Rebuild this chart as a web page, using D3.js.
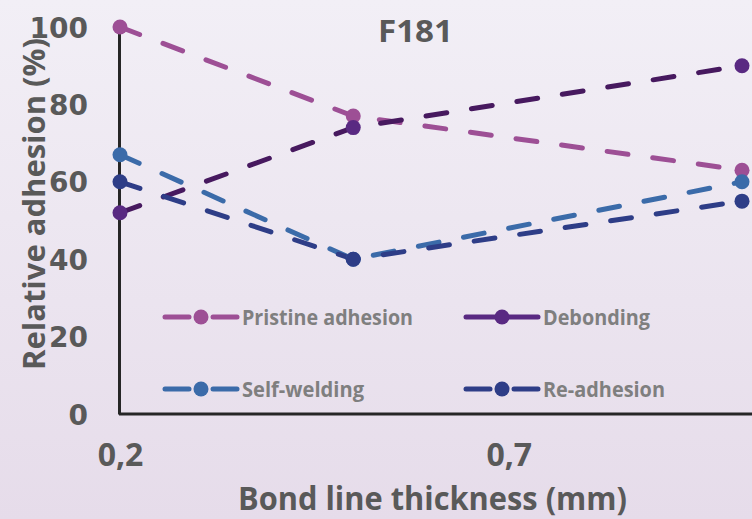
<html>
<head>
<style>
  body { margin: 0; }
  text { font-family: "Open Sans", sans-serif; font-weight: bold; }
  .series { fill: none; stroke-width: 5; stroke-linecap: round; stroke-dasharray: 21 25; }
</style>
<script src="https://d3js.org/d3.v7.min.js"></script>
</head>
<body>
<script>
var thickness = [0.2, 0.5, 1.0];
var xTicks = [0.2, 0.7];
var yTicks = [0, 20, 40, 60, 80, 100];

var seriesNames = ["Pristine adhesion", "Debonding", "Self-welding", "Re-adhesion"];
var pristine = [100, 77, 63];
var debonding = [52, 74, 90];
var selfWelding = [67, 40, 60];
var reAdhesion = [60, 40, 55];

var lineColors = ["#9d4f95", "#47195f", "#3b6ba9", "#2e3d87"];
var dotColors = ["#9d4f95", "#592982", "#3b6ba9", "#2e3d87"];

var width = 752, height = 519;
var svg = d3.select("body").append("svg").attr("width", width).attr("height", height);

var grad = svg.append("defs").append("linearGradient")
  .attr("id", "bg").attr("x1", 0).attr("y1", 0).attr("x2", 0).attr("y2", 1);
grad.append("stop").attr("offset", 0).attr("stop-color", "#f2eff6");
grad.append("stop").attr("offset", 1).attr("stop-color", "#e6dcea");
svg.append("rect").attr("width", width).attr("height", height).attr("fill", "url(#bg)");

var x = d3.scaleLinear().domain([0.2, 1.0]).range([120, 742]);
var y = d3.scaleLinear().domain([0, 100]).range([414, 27]);

// y axis title first, tick labels drawn over it
svg.append("text").attr("transform", "translate(45,370) rotate(-90)")
  .attr("textLength", 332).attr("lengthAdjust", "spacingAndGlyphs")
  .attr("fill", "#595959").style("font-size", "30px").text("Relative adhesion (%)");

var yAxis = svg.append("g").attr("transform", "translate(119,0)")
  .call(d3.axisLeft(y).tickValues(yTicks).tickSize(0).tickPadding(31));
yAxis.select(".domain").attr("stroke", "#262626").attr("stroke-width", 3);
yAxis.selectAll("text").attr("fill", "#595959").style("font-size", "28px")
  .style("font-family", "'DejaVu Sans', sans-serif").attr("dy", "0.36em");

var xAxis = svg.append("g").attr("transform", "translate(0,414)")
  .call(d3.axisBottom(x).tickValues(xTicks).tickSize(0).tickPadding(32)
    .tickFormat(function(d) { return d3.format(".1f")(d).replace(".", ","); }));
xAxis.select(".domain").attr("d", "M119,0H752").attr("stroke", "#262626").attr("stroke-width", 3);
xAxis.selectAll("text").attr("fill", "#595959").style("font-size", "32px").attr("dy", "0.62em");

svg.append("text").attr("x", 238).attr("y", 510)
  .attr("textLength", 389).attr("lengthAdjust", "spacingAndGlyphs")
  .attr("fill", "#595959").style("font-size", "33px").text("Bond line thickness (mm)");
svg.append("text").attr("x", 378).attr("y", 42)
  .attr("textLength", 75).attr("lengthAdjust", "spacingAndGlyphs")
  .attr("fill", "#595959").style("font-size", "31px").text("F181");

var allSeries = [pristine, debonding, selfWelding, reAdhesion];
var line = d3.line().x(function(d, i) { return x(thickness[i]); }).y(function(d) { return y(d); });

allSeries.forEach(function(vals, k) {
  svg.append("path").attr("class", "series").attr("stroke", lineColors[k]).attr("d", line(vals));
});
allSeries.forEach(function(vals, k) {
  svg.selectAll(null).data(vals).enter().append("circle")
    .attr("cx", function(d, i) { return x(thickness[i]); })
    .attr("cy", function(d) { return y(d); })
    .attr("r", 7.5).attr("fill", dotColors[k]);
});

// legend
var legendPos = [[165, 317], [466, 317], [165, 389], [466, 389]];
var legendTextLen = [171, 107, 122, 122];
seriesNames.forEach(function(name, k) {
  var g = svg.append("g").attr("transform", "translate(" + legendPos[k][0] + "," + legendPos[k][1] + ")");
  if (k === 1) {
    g.append("line").attr("x1", 0).attr("x2", 72).attr("stroke", dotColors[k])
      .attr("stroke-width", 5).attr("stroke-linecap", "round");
  } else {
    g.append("line").attr("x1", 0).attr("x2", 24).attr("stroke", lineColors[k])
      .attr("stroke-width", 5).attr("stroke-linecap", "round");
    g.append("line").attr("x1", 48).attr("x2", 72).attr("stroke", lineColors[k])
      .attr("stroke-width", 5).attr("stroke-linecap", "round");
  }
  g.append("circle").attr("cx", 36).attr("r", 7.5).attr("fill", dotColors[k]);
  g.append("text").attr("x", 77).attr("dy", "0.36em").attr("fill", "#7f7f7f")
    .attr("textLength", legendTextLen[k]).attr("lengthAdjust", "spacingAndGlyphs")
    .style("font-size", "21px").text(name);
});
</script>
</body>
</html>
